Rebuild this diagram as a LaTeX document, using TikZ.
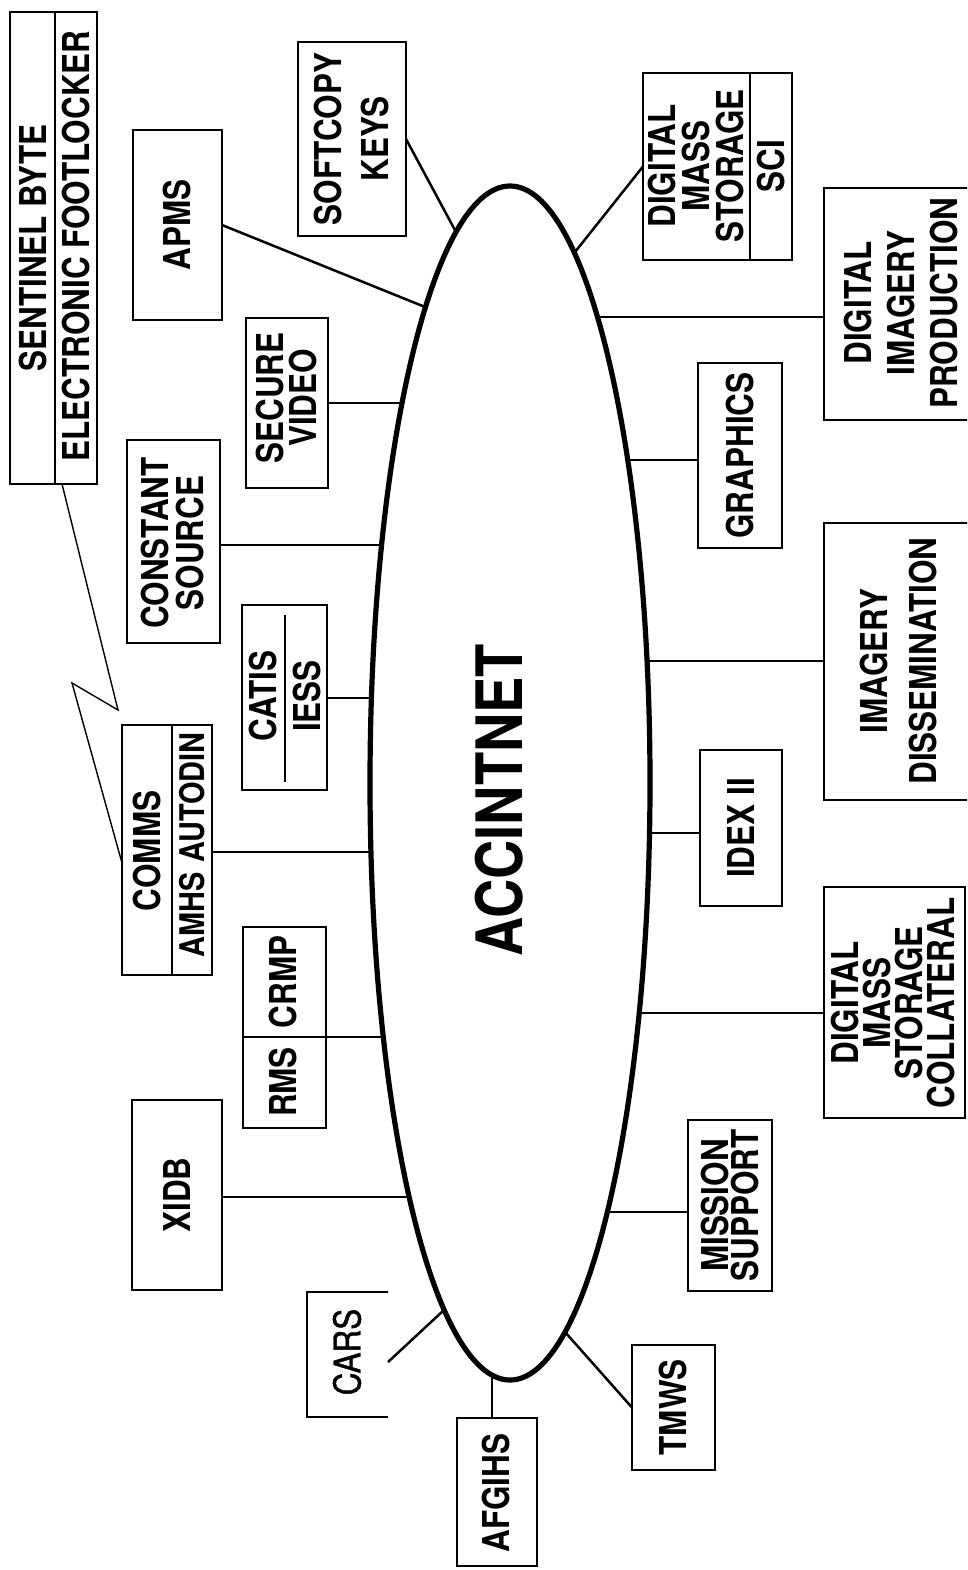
\documentclass[tikz,border=0pt]{standalone}
\usepackage{fontspec}
\newfontfamily\cf{TeX Gyre Heros}[FakeStretch=0.85]
\newfontfamily\cfm{TeX Gyre Heros}[FakeStretch=0.85, FakeBold=1.2]
\usetikzlibrary{shapes.geometric,fit,calc}
\tikzset{
  box/.style={draw, line width=2.8pt, inner sep=0pt, outer sep=0pt},
  boxline/.style={line width=2.8pt},
  div/.style={line width=2pt},
  lab/.style={rotate=90, inner sep=0pt, align=center, font=\cf\bfseries\fontsize{37}{#1}\selectfont},
  lab/.default=40,
  wire/.style={line width=2.5pt},
  zap/.style={line width=1.4pt, line join=miter},
}
\begin{document}
\begin{tikzpicture}[x=1pt,y=-1pt]
\path[use as bounding box] (0,0) rectangle (967,1570);
\clip (0,0) rectangle (967,1570);

% central ring
\node[draw, ellipse, line width=5.2pt, minimum width=280pt, minimum height=1194pt, inner sep=0pt, outer sep=0pt] (net) at (510,783) {};
\node[font=\cf\bfseries\fontsize{64}{70}\selectfont, rotate=90, inner sep=0pt] (acc) at (499,800) {ACCINTNET};

% points on the ring
\coordinate (eApms) at (425,307);
\coordinate (eSoft) at (456,232);
\coordinate (eSecv) at (402,403);
\coordinate (eConst) at (382,545);
\coordinate (eCatis) at (371,698);
\coordinate (eComms) at (371,852);
\coordinate (eRms) at (383,1037);
\coordinate (eXidb) at (409,1197);
\coordinate (eCars) at (444,1310);
\coordinate (eAfg) at (492,1375);
\coordinate (eTmws) at (565,1332);
\coordinate (eMiss) at (607,1212);
\coordinate (eDmsc) at (639,1013);
\coordinate (eIdex) at (649,833);
\coordinate (eImgd) at (647,661);
\coordinate (eGrap) at (628,460);
\coordinate (eDip) at (597,317);
\coordinate (eDmss) at (575,252);

% left side boxes
\node[box, fit={(10,12)(97,484)}] (sent) {};
\draw[div] (55,12) -- (55,484);
\node[lab] (sentA) at (33,248) {SENTINEL BYTE};
\node[lab] (sentB) at (76,246) {ELECTRONIC FOOTLOCKER};

\node[box, fit={(133,130)(222,320)}] (apms) {};
\node[lab] (apmsT) at (apms) {APMS};

\node[box, fit={(298,42)(406,236)}] (soft) {};
\node[lab=47] (softT) at (soft) {SOFTCOPY\\KEYS};

\node[box, fit={(246,318)(328,488)}] (secv) {};
\node[lab=33] (secvT) at (287,398) {SECURE\\VIDEO};

\node[box, fit={(127,440)(220,643)}] (const) {};
\node[lab=35] (constT) at (173,543) {CONSTANT\\SOURCE};

\node[box, fit={(242,605)(327,790)}] (catis) {};
\draw[div] (285,615) -- (285,782);
\node[lab] (catisA) at (263,696) {CATIS};
\node[lab] (catisB) at (307,696) {IESS};

\node[box, fit={(122,725)(212,975)}] (comms) {};
\draw[div] (172,725) -- (172,975);
\node[lab] (commsA) at (147,851) {COMMS};
\node[lab, font=\cf\bfseries\fontsize{34}{36}\selectfont] (commsB) at (192,845) {AMHS\hspace{10pt}AUTODIN};

\node[box, fit={(243,927)(326,1128)}] (rms) {};
\node[lab] (rmsA) at (283,982) {CRMP};
\node[lab] (rmsB) at (283,1082) {RMS};

\node[box, fit={(132,1100)(222,1290)}] (xidb) {};
\node[lab] (xidbT) at (xidb) {XIDB};

\draw[boxline] (388,1292) -- (307,1292) -- (307,1417) -- (388,1417);
\node[lab, font=\cfm\fontsize{37}{40}\selectfont] (cars) at (347,1352) {CARS};
\coordinate (carsC) at (388,1362);

\node[box, fit={(457,1418)(537,1566)}] (afg) {};
\node[lab] (afgT) at (496,1493) {AFGIHS};

% right side boxes
\node[box, fit={(632,1345)(715,1470)}] (tmws) {};
\node[lab] (tmwsT) at (tmws) {TMWS};

\node[box, fit={(688,1120)(772,1291)}] (miss) {};
\node[lab=30] (missT) at (miss) {MISSION\\SUPPORT};

\node[box, fit={(824,887)(965,1118)}] (dmsc) {};
\node[lab=32] (dmscT) at (893,1003) {DIGITAL\\MASS\\STORAGE\\COLLATERAL};

\node[box, fit={(700,750)(782,906)}] (idex) {};
\node[lab] (idexT) at (idex) {IDEX II};

\node[box, fit={(824,523)(985,800)}] (imgd) {};
\node[lab=49] (imgdT) at (898,661) {IMAGERY\\DISSEMINATION};

\node[box, fit={(698,363)(782,548)}] (grap) {};
\node[lab] (grapT) at (grap) {GRAPHICS};

\node[box, fit={(824,188)(985,420)}] (dip) {};
\node[lab=43] (dipT) at (901,303) {DIGITAL\\IMAGERY\\PRODUCTION};

\node[box, fit={(643,73)(792,260)}] (dmss) {};
\draw[div] (750,73) -- (750,260);
\node[lab=34] (dmssA) at (696,166) {DIGITAL\\MASS\\STORAGE};
\node[lab] (dmssB) at (771,166) {SCI};

% connectors
\draw[wire] (apms.east) -- (eApms);
\draw[wire] (soft.east) -- (eSoft);
\draw[wire] (secv.east |- eSecv) -- (eSecv);
\draw[wire] (const.east |- eConst) -- (eConst);
\draw[wire] (catis.east |- eCatis) -- (eCatis);
\draw[wire] (comms.east |- eComms) -- (eComms);
\draw[wire] (rms.west |- eRms) -- (eRms);
\draw[wire] (xidb.east |- eXidb) -- (eXidb);
\draw[wire] (carsC) -- (eCars);
\draw[wire] (eAfg) -- (eAfg |- afg.north);
\draw[wire] (eTmws) -- (tmws.west);
\draw[wire] (eMiss) -- (eMiss -| miss.west);
\draw[wire] (eDmsc) -- (eDmsc -| dmsc.west);
\draw[wire] (eIdex) -- (eIdex -| idex.west);
\draw[wire] (eImgd) -- (eImgd -| imgd.west);
\draw[wire] (eGrap) -- (eGrap -| grap.west);
\draw[wire] (eDip) -- (eDip -| dip.west);
\draw[wire] (eDmss) -- (dmss.west);

% lightning link
\coordinate (lz1) at (118,710);
\coordinate (lz2) at (72,683);
\draw[zap] ($(sent.south west)+(52,0)$) -- (lz1) -- (lz2) -- ($(comms.west)+(0,13)$);
\end{tikzpicture}
\end{document}
